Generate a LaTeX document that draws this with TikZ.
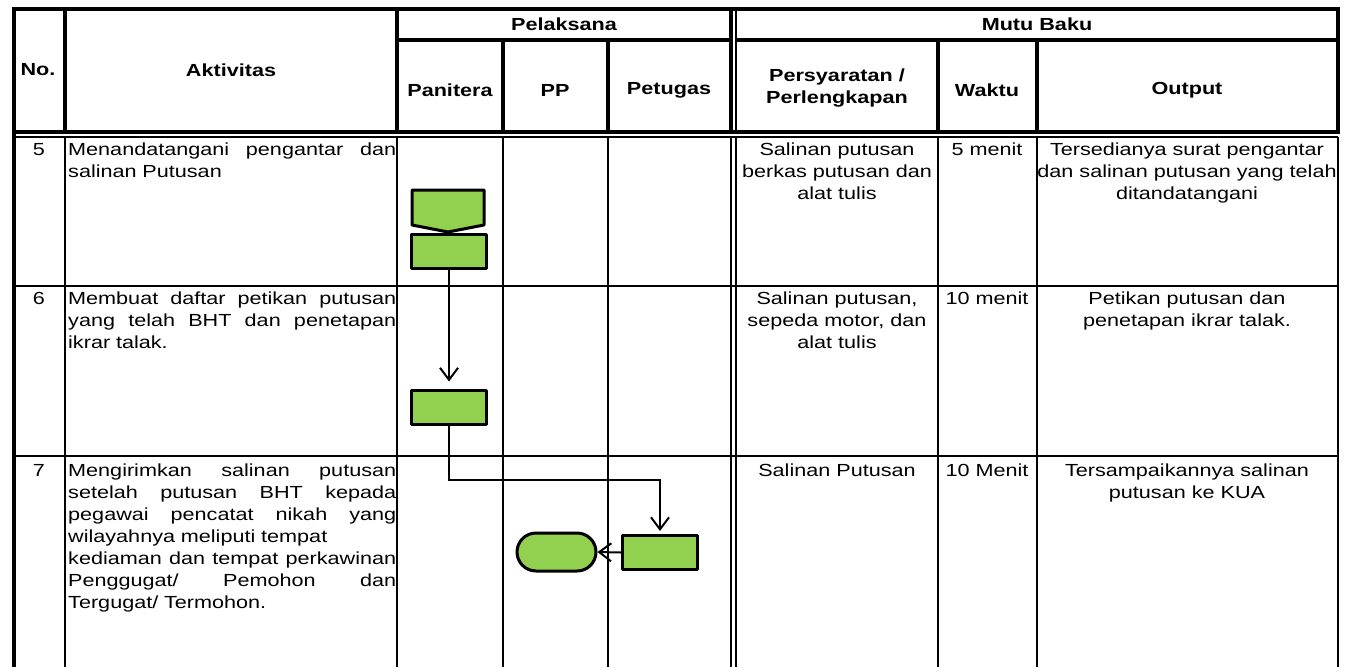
\documentclass[tikz,border=0pt]{standalone}
\usepackage{fontspec}
\setmainfont{Liberation Sans}[FakeStretch=1.235]
\definecolor{act}{HTML}{92D050}
\usetikzlibrary{positioning,arrows.meta,shapes.symbols,shapes.misc,calc}
\newcommand{\jline}[1]{\makebox[328pt][s]{\spaceskip=0pt\xspaceskip=0pt\relax #1}}

\begin{document}
\begin{tikzpicture}
    [x=1pt,y=-1pt,
      thickrule/.style={line width=4pt},
      thinrule/.style={line width=2pt},
      head/.style={font=\fontsize{17.5}{22}\selectfont\bfseries,align=center,inner sep=0pt},
      cell/.style={font=\fontsize{17.5}{22}\selectfont,align=center,inner sep=0pt,anchor=north},
      desc/.style={font=\fontsize{17.5}{22}\selectfont,align=left,text width=328pt,inner sep=0pt,anchor=north west},
      proc/.style={rectangle,draw,line width=3pt,line join=round,fill=act,minimum width=75pt,minimum height=34pt,inner sep=0pt},
      offpage/.style={signal,signal to=south,signal from=nowhere,signal pointer angle=158,draw,line width=3pt,line join=round,fill=act,minimum width=72pt,minimum height=35pt,inner sep=0pt},
      stop/.style={rounded rectangle,draw,line width=3pt,fill=act,minimum width=79pt,minimum height=38pt,inner sep=0pt},
      flow/.style={line width=2pt,-{Straight Barb[length=12pt,width=18pt]}}]

  \useasboundingbox (0,0) rectangle (1349,667);

  % grid of the table
  \draw[thickrule] (12,9) -- (1340,9);
  \draw[thickrule] (14,7) -- (14,667);
  \draw[thickrule] (1338,7) -- (1338,132);
  \draw[thickrule] (397,40) -- (731,40) (736,40) -- (1338,40);
  \draw[thickrule] (12,132) -- (1340,132);
  \draw[thinrule] (14,137) -- (1338,137);
  \foreach \x in {65,397,731} \draw[thickrule] (\x,9) -- (\x,132);
  \draw[thinrule] (736,9) -- (736,132);
  \foreach \x in {503,608,938,1037} \draw[thickrule] (\x,40) -- (\x,132);
  \foreach \x in {65,397,503,608,731,736,938,1037,1338} \draw[thinrule] (\x,137) -- (\x,667);
  \foreach \y in {286,456} \draw[thinrule] (14,\y) -- (1338,\y);

  % header
  \node[head] (no) at (38,70) {No.};
  \node[head] (akt) at (231,70) {Aktivitas};
  \node[head] (pel) at (564,24) {Pelaksana};
  \node[head] (pan) at (450,90) {Panitera};
  \node[head] (pp) at (555,90) {PP};
  \node[head] (ptg) at (669,90) {Petugas};
  \node[head] (mutu) at (1037,24) {Mutu Baku};
  \node[head] (syr) at (837,88) {Persyaratan /\\Perlengkapan};
  \node[head] (wkt) at (987,90) {Waktu};
  \node[head] (out) at (1187,90) {Output};

  % row 5
  \node[cell] (no5) at (39,143) {5};
  \node[desc] (akt5) at (68,143) {\jline{Menandatangani pengantar dan}\\salinan Putusan};
  \node[cell] (syr5) at (837,143) {Salinan putusan\\berkas putusan dan\\alat tulis};
  \node[cell] (wkt5) at (987,143) {5 menit};
  \node[cell] (out5) at (1187,143) {Tersedianya surat pengantar\\dan salinan putusan yang telah\\ditandatangani};

  % row 6
  \node[cell] (no6) at (39,292) {6};
  \node[desc] (akt6) at (68,292) {\jline{Membuat daftar petikan putusan}\\\jline{yang telah BHT dan penetapan}\\ikrar talak.};
  \node[cell] (syr6) at (837,292) {Salinan putusan,\\sepeda motor, dan\\alat tulis};
  \node[cell] (wkt6) at (987,292) {10 menit};
  \node[cell] (out6) at (1187,292) {Petikan putusan dan\\penetapan ikrar talak.};

  % row 7
  \node[cell] (no7) at (39,464) {7};
  \node[desc] (akt7) at (68,464) {\jline{Mengirimkan salinan putusan}\\\jline{setelah putusan BHT kepada}\\\jline{pegawai pencatat nikah yang}\\wilayahnya meliputi tempat\\\jline{kediaman dan tempat perkawinan}\\\jline{Penggugat/ Pemohon dan}\\Tergugat/ Termohon.};
  \node[cell] (syr7) at (837,464) {Salinan Putusan};
  \node[cell] (wkt7) at (987,464) {10 Menit};
  \node[cell] (out7) at (1187,464) {Tersampaikannya salinan\\putusan ke KUA};

  % flow
  \node[offpage] (ttd) at (448,207.5) {};
  \node[proc] (sign) at (449,251.5) {};
  \node[proc] (petik) at (448.5,407) {};
  \node[proc] (kirim) at (660,552.5) {};
  \node[stop] (end) at (556.5,552) {};
  \coordinate (turn) at (448.5,480);

  \draw[flow,shorten >=7pt] (sign.south) -- (sign.south |- petik.north);
  \draw[flow,shorten >=3pt] (petik.south) -- (turn) -| (kirim.north);
  \draw[flow] (kirim.west) -- (end.east);
\end{tikzpicture}
\end{document}
